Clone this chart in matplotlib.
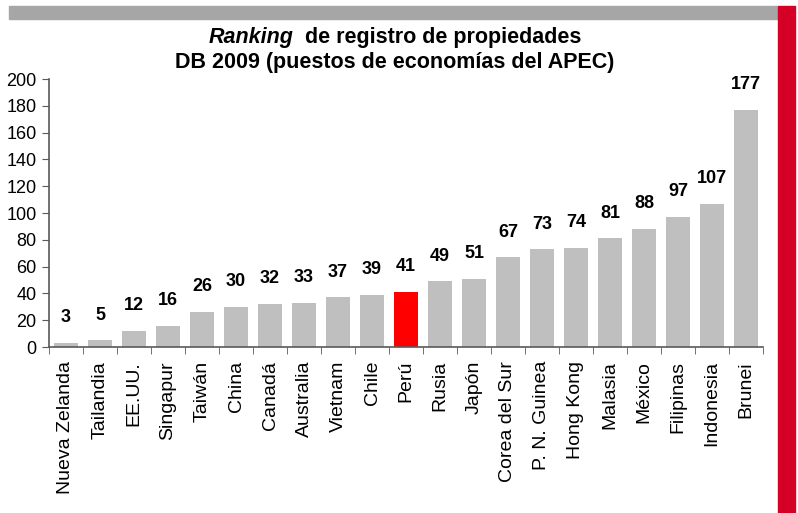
import matplotlib
matplotlib.use("Agg")
import matplotlib.pyplot as plt
from matplotlib.patches import Rectangle
import numpy as np

plt.rcParams["font.family"] = ["Liberation Sans", "DejaVu Sans"]

paises = ["Nueva Zelanda", "Tailandia", "EE.UU.", "Singapur", "Taiwán", "China",
          "Canadá", "Australia", "Vietnam", "Chile", "Perú", "Rusia", "Japón",
          "Corea del Sur", "P. N. Guinea", "Hong Kong", "Malasia", "México",
          "Filipinas", "Indonesia", "Brunei"]
puestos = [3, 5, 12, 16, 26, 30, 32, 33, 37, 39, 41, 49, 51, 67, 73, 74, 81, 88,
           97, 107, 177]
destacado = "Perú"

GRIS = "#BFBFBF"
ROJO = "#FF0000"
EJE = "#595959"

W, H = 798, 513
fig = plt.figure(figsize=(W / 100, H / 100), dpi=100, facecolor="white")
ax = fig.add_axes([49 / W, 1 - 347 / H, (763 - 49) / W, (347 - 79) / H])

x = np.arange(len(paises))
colores = [ROJO if p == destacado else GRIS for p in paises]
ax.bar(x, puestos, width=0.68, color=colores, zorder=2)

for xi, v in zip(x, puestos):
    ax.annotate(str(v), xy=(xi, v), xytext=(0, 12), textcoords="offset points",
                ha="center", va="bottom", fontsize=13, fontweight="bold")

ax.set_xlim(-0.5, len(paises) - 0.5)
ax.set_ylim(0, 200)
ax.set_yticks(range(0, 201, 20))
ax.tick_params(axis="y", labelsize=13, length=5, color=EJE, pad=4)

ax.set_xticks(x)
ax.set_xticklabels(paises, rotation=90, fontsize=14)
ax.tick_params(axis="x", which="major", length=0, pad=10)
ax.set_xticks(np.arange(-0.5, len(paises)), minor=True)
ax.tick_params(axis="x", which="minor", length=5, color=EJE, direction="out")

for s in ("top", "right"):
    ax.spines[s].set_visible(False)
for s in ("left", "bottom"):
    ax.spines[s].set_color(EJE)
    ax.spines[s].set_linewidth(1.2)

# franjas decorativas
fig.patches.append(Rectangle((9 / W, 1 - 19 / H), (778 - 9) / W, 13 / H,
                             transform=fig.transFigure, color="#A6A6A6", zorder=0))
fig.patches.append(Rectangle((778 / W, 0), 17 / W, 1 - 6 / H,
                             transform=fig.transFigure, color="#D50025", zorder=0))

# título
t1a = fig.text(0, 0, "Ranking", fontsize=15.5, fontweight="bold", fontstyle="italic")
t1b = fig.text(0, 0, "  de registro de propiedades", fontsize=15.5, fontweight="bold")
r = fig.canvas.get_renderer()
wa = t1a.get_window_extent(r).width
wb = t1b.get_window_extent(r).width
x0 = 395 - (wa + wb) / 2
t1a.set_position((x0 / W, 1 - 38 / H))
t1b.set_position(((x0 + wa) / W, 1 - 38 / H))
t1a.set_va("center")
t1b.set_va("center")
fig.text(395 / W, 1 - 63 / H, "DB 2009 (puestos de economías del APEC)",
         fontsize=15.5, fontweight="bold", ha="center", va="center")

fig.savefig("out.png", dpi=100, facecolor="white")
